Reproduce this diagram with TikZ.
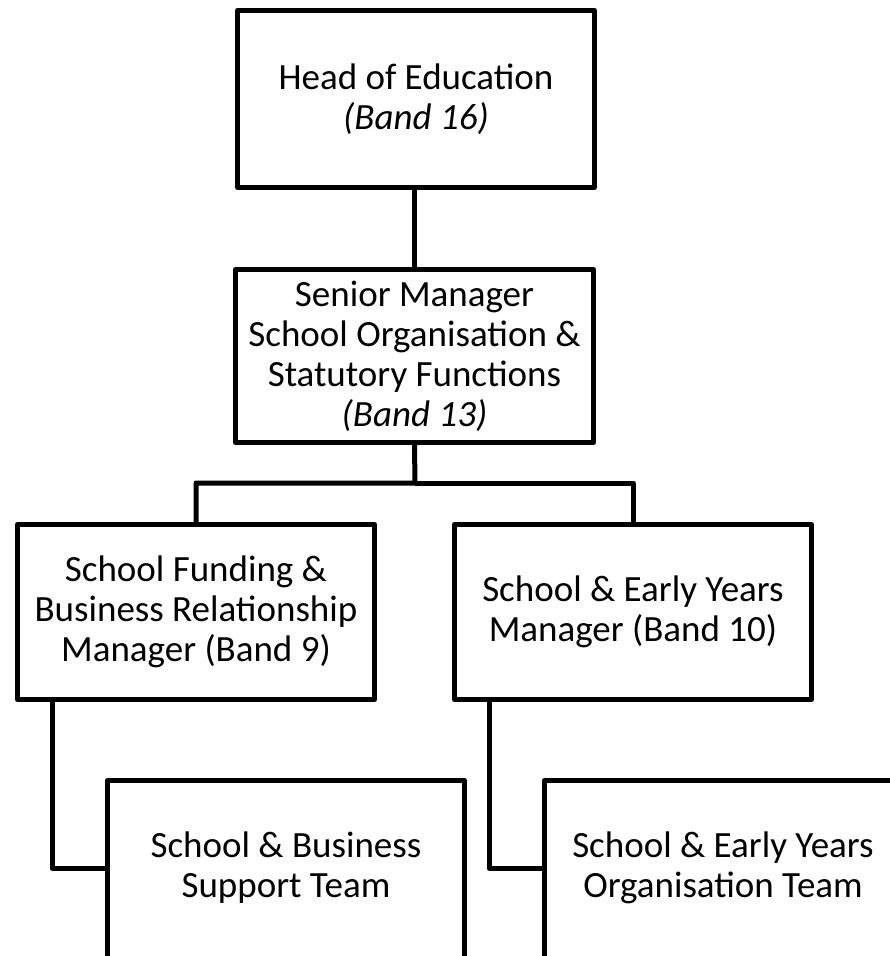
\documentclass[tikz,border=0pt]{standalone}
\usepackage{fontspec}
\setmainfont{Carlito}
\begin{document}
\begin{tikzpicture}[x=1pt,y=-1pt,
  box/.style={draw=black,line width=5pt,line join=round,rectangle,align=center,
    minimum width=357pt,minimum height=175pt,inner sep=0pt,
    font=\fontsize{37}{40}\selectfont},
  txt/.style={align=center,inner sep=0pt,font=\fontsize{37}{40}\selectfont},
  link/.style={draw=black,line width=5pt,line join=round}]
\clip (0,0) rectangle (890,956);
\fill[white] (0,0) rectangle (890,956);
\node[box,minimum height=177pt] (head) at (416,99) {Head of Education\\\textit{(Band 16)}};
\node[box,minimum width=358pt,minimum height=173pt] (senior) at (414.5,356)
  {Senior Manager\\School Organisation \&\\Statutory Functions\\\textit{(Band 13)}};
\node[box] (fund) at (196,612) {School Funding \&\\Business Relationship\\Manager (Band 9)};
\node[box] (early) at (633,612) {School \& Early Years\\Manager (Band 10)};
\node[box,minimum height=200pt] (bsup) at (286,880.5) {};
\node[txt] (bsupt) at (286,868) {School \& Business\\Support Team};
\node[box,minimum height=200pt] (eorg) at (723,880.5) {};
\node[txt] (eorgt) at (723,868) {School \& Early Years\\Organisation Team};
\coordinate (bar) at (415,483);
\draw[link] (head.south -| senior.north) -- (senior.north);
\draw[link] (senior.south) -- (bar) -| (fund.north);
\draw[link] (bar) -| (early.north);
\draw[link] ([xshift=37pt]fund.south west) |- (bsupt -| bsup.west);
\draw[link] ([xshift=37pt]early.south west) |- (eorgt -| eorg.west);
\end{tikzpicture}
\end{document}
